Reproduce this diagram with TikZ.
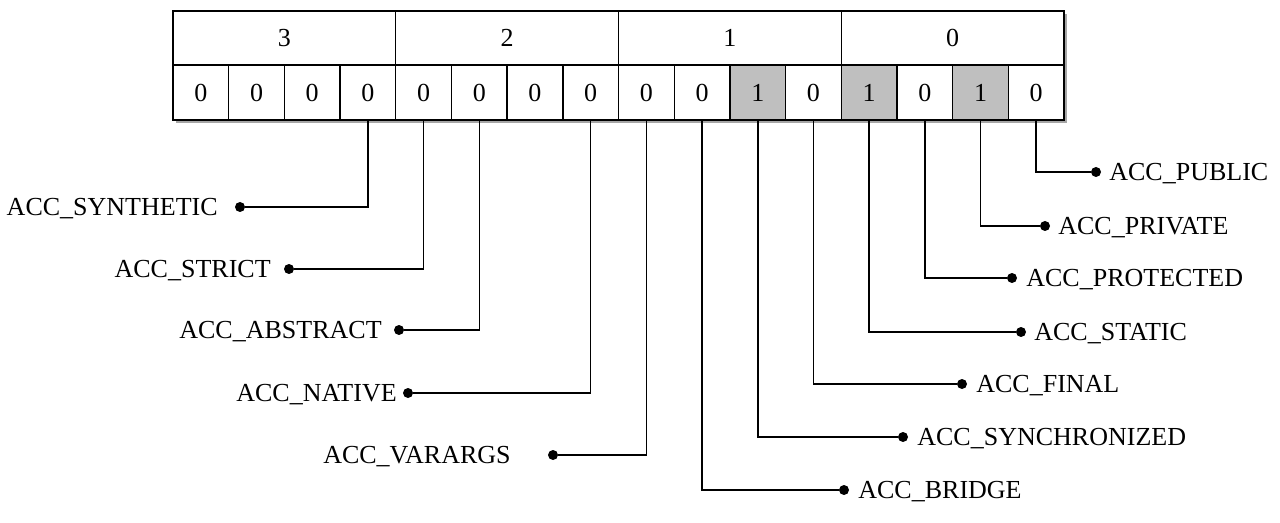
\documentclass[tikz,border=0pt]{standalone}
\usepackage{fontspec}
\setmainfont{Liberation Serif}
\tikzset{
  cell/.style={draw, line width=0.8pt, fill=white, inner sep=0pt,
    minimum width=1.1138cm, minimum height=1.1cm,
    font=\fontsize{14.8}{17}\selectfont},
  bit0/.style={},
  bit1/.style={fill=black!25},
  wire/.style={line width=0.9pt},
  dot/.style={circle, fill=black, inner sep=0pt, minimum size=0.2cm},
  lab/.style={inner sep=0pt, font=\fontsize{14.8}{17}\selectfont}
}
\begin{document}
\begin{tikzpicture}[x=0.02cm,y=-0.02cm]
  \useasboundingbox (0,0) rectangle (1280,523);

  % shadow of the table
  \fill[black!35] (176,14) rectangle (1067,123);

  % byte row
  \foreach \n [count=\j from 0] in {3,2,1,0}
    \node[cell, minimum width=4.455cm, minimum height=1.08cm] (h\j)
      at ({173+222.75*(\j+0.5)},38) {\n};

  % bit row
  \foreach \v [count=\i from 0] in {0,0,0,0,0,0,0,0,0,0,1,0,1,0,1,0}
    \node[cell, bit\v] (c\i) at ({173+55.69*(\i+0.5)},92.5) {\v};

  % flags on the left
  \foreach \i/\x/\y/\t/\name in {3/240/207/218/SYNTHETIC, 4/289/269/271/STRICT,
      5/399/330/382/ABSTRACT, 7/408/393/397/NATIVE, 8/553/455/511/VARARGS} {
    \node[dot] (d\i) at (\x,\y) {};
    \node[lab, anchor=base east] (l\i) at (\t,\y+8.5) {ACC\_\name};
    \draw[wire] (c\i.south) |- (d\i);
  }

  % flags on the right
  \foreach \i/\x/\y/\t/\name in {15/1096/172/1109/PUBLIC, 14/1045/226/1058/PRIVATE,
      13/1012/278/1026/PROTECTED, 12/1021/332/1034/STATIC, 11/962/384/976/FINAL,
      10/903/437/917/SYNCHRONIZED, 9/844/490/858/BRIDGE} {
    \node[dot] (d\i) at (\x,\y) {};
    \node[lab, anchor=base west] (l\i) at (\t,\y+8.5) {ACC\_\name};
    \draw[wire] (c\i.south) |- (d\i);
  }
\end{tikzpicture}
\end{document}
